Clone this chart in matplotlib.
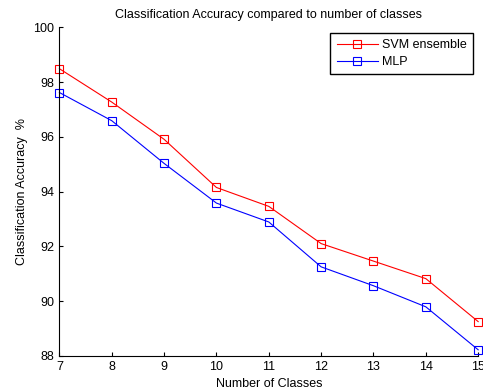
import matplotlib
matplotlib.use('Agg')
import matplotlib.pyplot as plt
import numpy as np

plt.rcParams['font.family'] = ['Liberation Sans', 'DejaVu Sans']

classes = [7, 8, 9, 10, 11, 12, 13, 14, 15]
svm_acc = [98.49, 97.27, 95.91, 94.15, 93.46, 92.10, 91.46, 90.82, 89.25]
mlp_acc = [97.62, 96.59, 95.03, 93.58, 92.89, 91.25, 90.56, 89.79, 88.22]
yticks = [88, 90, 92, 94, 96, 98, 100]

fig = plt.figure(figsize=(4.83, 3.91), dpi=100)
ax = fig.add_axes([0.123, 0.090, 0.867, 0.840])

ax.plot(classes, svm_acc, color='#ff0000', lw=0.8, marker='s', ms=5.5,
        mfc='none', mec='#ff0000', mew=0.8, label='SVM ensemble')
ax.plot(classes, mlp_acc, color='#0000ff', lw=0.8, marker='s', ms=5.5,
        mfc='none', mec='#0000ff', mew=0.8, label='MLP')

ax.set_xlim(7, 15)
ax.set_ylim(88, 100)
ax.set_xticks(classes)
ax.set_yticks(yticks)
ax.tick_params(direction='in', length=3, labelsize=9, width=0.8)
ax.spines['top'].set_visible(False)
ax.spines['right'].set_visible(False)
for s in ['left', 'bottom']:
    ax.spines[s].set_linewidth(0.8)
for ln in ax.lines:
    ln.set_clip_on(False)

ax.set_title('Classification Accuracy compared to number of classes', fontsize=9, pad=7)
ax.set_xlabel('Number of Classes', fontsize=9, labelpad=4)
ax.set_ylabel('Classification Accuracy  %', fontsize=9, labelpad=4)

leg = ax.legend(loc='upper right', bbox_to_anchor=(0.988, 0.983), fontsize=9,
                fancybox=False, edgecolor='black', framealpha=1,
                handlelength=3.3, handletextpad=0.35, borderpad=0.5,
                labelspacing=0.4, borderaxespad=0)
leg.get_frame().set_linewidth(1.0)

fig.savefig('out.png', dpi=100)
